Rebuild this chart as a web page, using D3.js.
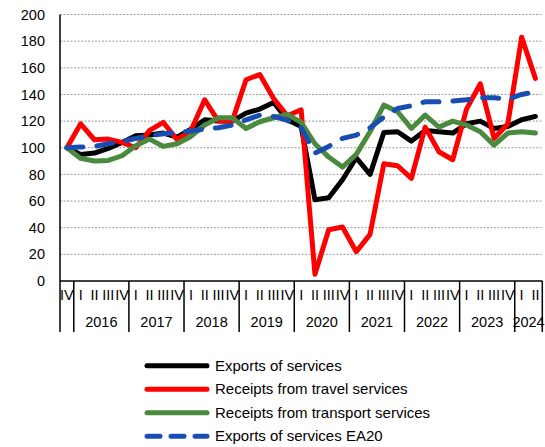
<!DOCTYPE html>
<html>
<head>
<meta charset="utf-8">
<script src="https://cdn.jsdelivr.net/npm/d3@7"></script>
<style>
  html, body { margin: 0; padding: 0; background: #fff; }
  svg { display: block; font-family: "Liberation Sans", Arial, sans-serif; }
</style>
</head>
<body>
<svg id="chart" width="545" height="447"></svg>
<script>
// ---- data ----
const categories = [
  "2015-IV",
  "2016-I","2016-II","2016-III","2016-IV",
  "2017-I","2017-II","2017-III","2017-IV",
  "2018-I","2018-II","2018-III","2018-IV",
  "2019-I","2019-II","2019-III","2019-IV",
  "2020-I","2020-II","2020-III","2020-IV",
  "2021-I","2021-II","2021-III","2021-IV",
  "2022-I","2022-II","2022-III","2022-IV",
  "2023-I","2023-II","2023-III","2023-IV",
  "2024-I","2024-II"
];
const exportsServices = [100, 95, 96, 99.5, 104, 109, 109.5, 111, 108, 114, 121, 120, 120, 126, 129, 134, 121,
  116, 61, 62.5, 76, 92.5, 80, 111.5, 112, 105, 113, 112, 111, 118, 120, 114.5, 116, 121, 123.5];
const travelReceipts = [100, 118, 106, 106.5, 104, 100, 113, 119, 106, 113, 136, 120, 120, 151, 155, 137, 124,
  128.5, 5, 38.5, 40.5, 22, 35, 88, 86.5, 77, 115.5, 97, 91, 129, 148, 107, 118, 183, 152];
const transportReceipts = [100, 92, 90, 90.5, 94, 101.5, 106.5, 101, 103, 108.5, 117, 122.5, 122.5, 114.5, 119.5, 122.5, 125,
  119, 103, 93, 85.5, 95, 112, 132, 127, 114.5, 124.5, 115.5, 120, 117, 112, 102, 111, 112, 111];
const exportsEA20 = [100, 100.5, 101, 103, 104.5, 107, 109, 110.5, 111.5, 112.5, 114, 115, 117, 121, 124.5, 123.5, 120.5,
  115, 96, 101, 107, 109.5, 115, 123, 129.5, 131.5, 134.5, 134.5, 135, 136, 137.5, 137.5, 136.5, 140, 142];
const seriesNames = ["Exports of services", "Receipts from travel services",
  "Receipts from transport services", "Exports of services EA20"];
const yTicks = [0, 20, 40, 60, 80, 100, 120, 140, 160, 180, 200];

// ---- styles ----
const colors = ["#000000", "#ff0000", "#4a8a3e", "#1a4db2"];
const dashes = [null, null, null, "16,14"];
const seriesValues = [exportsServices, travelReceipts, transportReceipts, exportsEA20];

const svg = d3.select("#chart");
const plotLeft = 60, plotRight = 542.3, plotTop = 14.5, plotBottom = 281;

const x = d3.scaleBand().domain(categories).range([plotLeft, plotRight]).paddingInner(0).paddingOuter(0);
const y = d3.scaleLinear().domain([0, 200]).range([plotBottom, plotTop]);
const cx = d => x(d) + x.bandwidth() / 2;

// gridlines
svg.append("g").selectAll("line").data(yTicks.filter(t => t > 0)).join("line")
  .attr("x1", plotLeft).attr("x2", plotRight)
  .attr("y1", d => y(d)).attr("y2", d => y(d))
  .attr("stroke", "#9a9a9a").attr("stroke-width", 1).attr("stroke-dasharray", "2,1.5");

// y axis labels
const yAxis = d3.axisLeft(y).tickValues(yTicks).tickSize(0).tickPadding(0);
const gy = svg.append("g").attr("transform", `translate(${plotLeft - 15},0)`).call(yAxis);
gy.select(".domain").remove();
gy.selectAll("text").attr("font-size", "14.5px").attr("fill", "#000")
  .attr("font-family", "Liberation Sans, Arial, sans-serif");

// lines
const line = d3.line().x((d, i) => cx(categories[i])).y(d => y(d));
seriesValues.forEach((vals, k) => {
  svg.append("path").datum(vals)
    .attr("d", line)
    .attr("fill", "none")
    .attr("stroke", colors[k])
    .attr("stroke-width", 5)
    .attr("stroke-linejoin", "round")
    .attr("stroke-linecap", "round")
    .attr("stroke-dasharray", dashes[k]);
});

// axes lines
const axisBottom = 332;
svg.append("line").attr("x1", plotLeft).attr("x2", plotRight).attr("y1", plotBottom).attr("y2", plotBottom)
  .attr("stroke", "#000").attr("stroke-width", 1.5);
svg.append("line").attr("x1", plotLeft).attr("x2", plotLeft).attr("y1", plotTop).attr("y2", axisBottom)
  .attr("stroke", "#000").attr("stroke-width", 1.5);

// quarter labels
const qLabel = c => c.split("-")[1];
const yLabel = c => c.split("-")[0];
svg.append("g").selectAll("text").data(categories).join("text")
  .attr("x", d => cx(d)).attr("y", 295).attr("dy", "0.35em")
  .attr("text-anchor", "middle").attr("font-size", "14.5px")
  .text(d => qLabel(d));

// year groups
const years = Array.from(new Set(categories.map(yLabel)));
const groups = years.map(yr => {
  const cs = categories.filter(c => yLabel(c) === yr);
  return { year: yr, x0: x(cs[0]), x1: x(cs[cs.length - 1]) + x.bandwidth() };
});
// separators
const seps = groups.map(g => g.x0).concat([plotRight]).filter(v => v > plotLeft + 0.5);
svg.append("g").selectAll("line").data(seps).join("line")
  .attr("x1", d => d).attr("x2", d => d).attr("y1", plotBottom).attr("y2", axisBottom)
  .attr("stroke", "#000").attr("stroke-width", 1.5);
svg.append("g").selectAll("text").data(groups.filter(g => g.year !== "2015")).join("text")
  .attr("x", d => (d.x0 + d.x1) / 2).attr("y", 321.5).attr("dy", "0.35em")
  .attr("text-anchor", "middle").attr("font-size", "14.5px")
  .text(d => d.year);

// legend
const lg = svg.append("g");
seriesNames.forEach((name, k) => {
  const ly = 365.7 + k * 23.5;
  lg.append("line").attr("x1", 147).attr("x2", 207).attr("y1", ly).attr("y2", ly)
    .attr("stroke", colors[k]).attr("stroke-width", 5).attr("stroke-linecap", "round")
    .attr("stroke-dasharray", dashes[k] ? "13,11" : null);
  lg.append("text").attr("x", 215).attr("y", ly).attr("dy", "0.35em")
    .attr("font-size", "15px").text(name);
});
</script>
</body>
</html>
